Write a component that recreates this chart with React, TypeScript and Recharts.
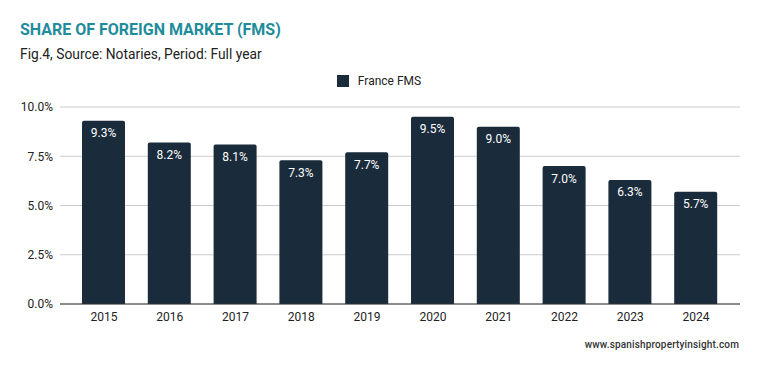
import React from "react"
import { BarChart, Bar, XAxis, YAxis, CartesianGrid, Legend, LabelList } from "recharts"

const years = ["2015", "2016", "2017", "2018", "2019", "2020", "2021", "2022", "2023", "2024"]
const franceFms = [9.3, 8.2, 8.1, 7.3, 7.7, 9.5, 9.0, 7.0, 6.3, 5.7]
const yTicks = [0, 2.5, 5, 7.5, 10]

const data = years.map((year, i) => ({ year, fms: franceFms[i] }))

const font = "Roboto, 'Noto Sans', sans-serif"
const barColor = "#1a2b3b"

// legend drawn by hand so the icon/text gap matches
const renderLegend = () => (
  <div style={{ display: "flex", justifyContent: "center", alignItems: "center", height: 18, fontFamily: font }}>
    <span style={{ width: 12, height: 12, background: barColor, marginRight: 9, display: "inline-block" }} />
    <span style={{ color: "#222", fontSize: 12 }}>France FMS</span>
  </div>
)

export default function App() {
  return (
    <div style={{ position: "absolute", left: 0, top: 0, width: 759, height: 371, background: "#fff", fontFamily: font }}>
      <div style={{ position: "absolute", left: 20, top: 20, fontSize: 16, fontWeight: 700, color: "#1e8c9b" }}>
        SHARE OF FOREIGN MARKET (FMS)
      </div>
      <div style={{ position: "absolute", left: 20, top: 46, fontSize: 13.8, color: "#222" }}>
        Fig.4, Source: Notaries, Period: Full year
      </div>
      <BarChart width={759} height={371} data={data} margin={{ top: 89, right: 19, bottom: 37, left: 0 }}>
        <CartesianGrid vertical={false} stroke="#cccccc" />
        <XAxis
          dataKey="year"
          padding={{ left: 11, right: 11 }}
          tickLine={false}
          tickSize={0}
          tickMargin={8}
          height={30}
          axisLine={{ stroke: "#333" }}
          tick={{ fill: "#222", fontSize: 12, fontFamily: font }}
        />
        <YAxis
          domain={[0, 10]}
          ticks={yTicks}
          width={60}
          axisLine={false}
          tickLine={false}
          tickSize={0}
          tickMargin={7}
          tickFormatter={(v: number) => `${v.toFixed(1)}%`}
          tick={{ fill: "#222", fontSize: 12, fontFamily: font }}
        />
        <Legend verticalAlign="top" height={18} content={renderLegend} wrapperStyle={{ top: 72, left: 9 }} />
        <Bar dataKey="fms" name="France FMS" fill={barColor} barSize={43} radius={[2, 2, 0, 0]} isAnimationActive={false}>
          <LabelList
            dataKey="fms"
            position="insideTop"
            offset={8}
            formatter={(v: any) => `${Number(v).toFixed(1)}%`}
            style={{ fill: "#fff", fontSize: 12, fontFamily: font }}
          />
        </Bar>
      </BarChart>
      <div style={{ position: "absolute", right: 20, top: 339, fontSize: 10, fontWeight: 500, color: "#333", letterSpacing: 0.15 }}>
        www.spanishpropertyinsight.com
      </div>
    </div>
  )
}
